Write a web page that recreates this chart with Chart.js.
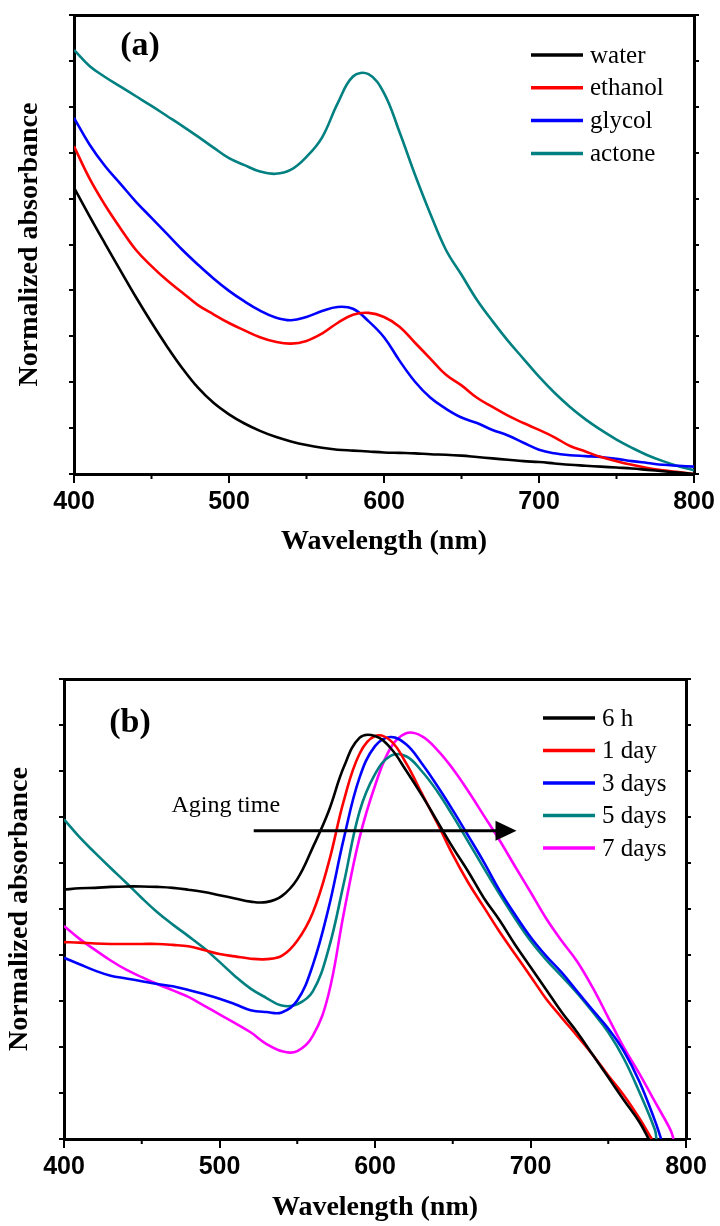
<!DOCTYPE html>
<html>
<head>
<meta charset="utf-8">
<script src="https://cdn.jsdelivr.net/npm/chart.js@4.4.0/dist/chart.umd.min.js"></script>
<style>
  html, body { margin: 0; padding: 0; background: #fff; width: 720px; height: 1226px; overflow: hidden; }
  canvas { position: absolute; left: 0; }
</style>
</head>
<body>
<canvas id="plot-a" width="720" height="600" style="top:0px"></canvas>
<canvas id="plot-b" width="720" height="626" style="top:600px"></canvas>
<script>
// (a) solvents, values read every 10 nm
const wavelengthA = [400, 410, 420, 430, 440, 450, 460, 470, 480, 490, 500, 510, 520, 530, 540, 550, 560, 570, 580, 590,
    600, 610, 620, 630, 640, 650, 660, 670, 680, 690, 700, 710, 720, 730, 740, 750, 760, 770, 780, 790, 800];
const water = [0.624, 0.562, 0.502, 0.443, 0.385, 0.330, 0.278, 0.230, 0.188, 0.155, 0.130, 0.110, 0.094, 0.081, 0.071, 0.063, 0.057, 0.053, 0.051, 0.049,
    0.047, 0.046, 0.045, 0.043, 0.042, 0.040, 0.037, 0.034, 0.031, 0.028, 0.026, 0.023, 0.020, 0.018, 0.016, 0.014, 0.012, 0.009, 0.006, 0.003, 0.000];
const ethanol = [0.714, 0.644, 0.586, 0.535, 0.488, 0.453, 0.422, 0.395, 0.368, 0.348, 0.329, 0.313, 0.298, 0.288, 0.284, 0.290, 0.306, 0.329, 0.347, 0.351,
    0.342, 0.321, 0.286, 0.251, 0.216, 0.193, 0.166, 0.146, 0.127, 0.111, 0.096, 0.080, 0.061, 0.049, 0.037, 0.028, 0.020, 0.013, 0.008, 0.004, 0.000];
const glycol = [0.776, 0.718, 0.671, 0.632, 0.593, 0.558, 0.523, 0.488, 0.456, 0.426, 0.399, 0.376, 0.356, 0.341, 0.335, 0.342, 0.355, 0.364, 0.360, 0.333,
    0.298, 0.247, 0.201, 0.166, 0.142, 0.123, 0.111, 0.096, 0.084, 0.068, 0.053, 0.045, 0.041, 0.039, 0.037, 0.033, 0.028, 0.024, 0.020, 0.018, 0.016];
const actone = [0.924, 0.889, 0.865, 0.844, 0.823, 0.802, 0.780, 0.758, 0.735, 0.711, 0.688, 0.673, 0.659, 0.654, 0.663, 0.691, 0.733, 0.807, 0.866, 0.871,
    0.830, 0.745, 0.652, 0.566, 0.488, 0.434, 0.379, 0.333, 0.290, 0.251, 0.212, 0.177, 0.146, 0.119, 0.096, 0.075, 0.057, 0.041, 0.028, 0.017, 0.008];
const labelsA = ['water', 'ethanol', 'glycol', 'actone'];
const colorsA = ['#000000', '#ff0000', '#0000ff', '#008080'];

// (b) aging time, null where the curve is already below the axis
const wavelengthB = [400, 410, 420, 430, 440, 450, 460, 470, 480, 490, 500, 510, 520, 530, 540, 550, 560, 570, 580, 590,
    600, 610, 620, 630, 640, 650, 660, 670, 680, 690, 700, 710, 720, 730, 740, 750, 760, 770, 780, 790];
const sixHour = [0.542, 0.545, 0.546, 0.548, 0.549, 0.549, 0.548, 0.546, 0.542, 0.537, 0.530, 0.523, 0.516, 0.515, 0.528, 0.565, 0.634, 0.711, 0.809, 0.872,
    0.876, 0.850, 0.801, 0.748, 0.691, 0.634, 0.581, 0.524, 0.476, 0.423, 0.374, 0.325, 0.276, 0.232, 0.183, 0.134, 0.085, 0.037, null, null];
const oneDay = [0.428, 0.427, 0.425, 0.424, 0.424, 0.424, 0.424, 0.422, 0.419, 0.411, 0.402, 0.397, 0.392, 0.391, 0.398, 0.431, 0.492, 0.598, 0.736, 0.837,
    0.876, 0.866, 0.817, 0.752, 0.687, 0.618, 0.557, 0.504, 0.451, 0.402, 0.354, 0.305, 0.264, 0.224, 0.183, 0.138, 0.095, 0.045, null, null];
const threeDays = [0.394, 0.380, 0.366, 0.355, 0.349, 0.343, 0.337, 0.332, 0.324, 0.315, 0.305, 0.293, 0.280, 0.276, 0.275, 0.301, 0.378, 0.500, 0.654, 0.785,
    0.854, 0.874, 0.858, 0.817, 0.768, 0.715, 0.659, 0.602, 0.541, 0.488, 0.439, 0.398, 0.362, 0.321, 0.280, 0.240, 0.191, 0.125, 0.040, null];
const fiveDays = [0.695, 0.656, 0.622, 0.589, 0.557, 0.524, 0.493, 0.466, 0.441, 0.415, 0.385, 0.354, 0.327, 0.307, 0.290, 0.293, 0.321, 0.411, 0.557, 0.711,
    0.793, 0.833, 0.832, 0.800, 0.756, 0.703, 0.646, 0.589, 0.533, 0.480, 0.431, 0.390, 0.354, 0.317, 0.276, 0.232, 0.175, 0.102, 0.020, null];
const sevenDays = [0.463, 0.435, 0.411, 0.388, 0.368, 0.352, 0.337, 0.323, 0.309, 0.290, 0.271, 0.252, 0.232, 0.207, 0.191, 0.191, 0.224, 0.313, 0.492, 0.654,
    0.768, 0.850, 0.882, 0.876, 0.846, 0.805, 0.756, 0.703, 0.650, 0.593, 0.537, 0.480, 0.431, 0.386, 0.329, 0.264, 0.199, 0.142, 0.081, 0.020];
// wavelength where each (b) curve meets the x axis
const crossB = [776, 778, 784, 781, 792];
const labelsB = ['6 h', '1 day', '3 days', '5 days', '7 days'];
const colorsB = ['#000000', '#ff0000', '#0000ff', '#008080', '#ff00ff'];

const xTicksMinor = [450, 550, 650, 750];

const serifBold = { family: '"Liberation Serif", "Times New Roman", serif', size: 28, weight: 'bold' };
const sansBold = { family: '"Liberation Sans", Arial, sans-serif', size: 25, weight: 'bold' };

// legend, panel letter, minor ticks and arrow
const figureDecor = {
    id: 'figureDecor',
    afterDraw(chart, args, opts) {
        const ctx = chart.ctx;
        const xs = chart.scales.x;
        const ys = chart.scales.y;
        const area = chart.chartArea;
        ctx.save();

        ctx.strokeStyle = '#000';
        ctx.lineWidth = 2;
        xTicksMinor.forEach(v => {
            const px = xs.getPixelForValue(v);
            ctx.beginPath();
            ctx.moveTo(px, area.bottom);
            ctx.lineTo(px, area.bottom + 5);
            ctx.stroke();
        });

        ctx.fillStyle = '#000';
        ctx.textAlign = 'center';
        ctx.textBaseline = 'middle';
        ctx.font = 'bold 34px "Liberation Serif", serif';
        ctx.fillText(opts.panel, opts.panelX, opts.panelY);

        ctx.textAlign = 'left';
        ctx.font = '25px "Liberation Serif", serif';
        chart.data.datasets.forEach((ds, i) => {
            const ly = opts.legendY + i * opts.legendStep;
            ctx.strokeStyle = ds.borderColor;
            ctx.lineWidth = 3.5;
            ctx.beginPath();
            ctx.moveTo(opts.legendX, ly);
            ctx.lineTo(opts.legendX + 52, ly);
            ctx.stroke();
            ctx.fillText(ds.label, opts.legendX + 59, ly + 1);
        });

        if (opts.arrow) {
            const a = opts.arrow;
            const x1 = xs.getPixelForValue(a.from);
            const x2 = xs.getPixelForValue(a.to);
            const yy = ys.getPixelForValue(a.level);
            ctx.strokeStyle = '#000';
            ctx.lineWidth = 3;
            ctx.beginPath();
            ctx.moveTo(x1, yy);
            ctx.lineTo(x2 - 18, yy);
            ctx.stroke();
            ctx.beginPath();
            ctx.moveTo(x2, yy);
            ctx.lineTo(x2 - 21, yy - 10);
            ctx.lineTo(x2 - 21, yy + 10);
            ctx.closePath();
            ctx.fill();
            ctx.textAlign = 'center';
            ctx.font = '24px "Liberation Serif", serif';
            ctx.fillText(a.text, xs.getPixelForValue(a.textAt), ys.getPixelForValue(a.textLevel));
        }
        ctx.restore();
    }
};

function makeScales(sz) {
    return {
        x: {
            type: 'linear', position: 'bottom', min: 400, max: 800,
            ticks: { stepSize: 100, color: '#000', font: sansBold, padding: 4, maxRotation: 0 },
            grid: { drawOnChartArea: false, color: '#000', lineWidth: 2, tickLength: 9 },
            border: { color: '#000', width: 3 },
            title: { display: true, text: 'Wavelength (nm)', color: '#000', font: serifBold, padding: { top: 0, bottom: sz.xTitlePad } },
            afterFit: s => { s.height = sz.bottom; }
        },
        x2: {
            type: 'linear', position: 'top', min: 400, max: 800,
            ticks: { display: false },
            grid: { display: false, drawTicks: false },
            border: { color: '#000', width: 3 },
            afterFit: s => { s.height = sz.top; }
        },
        y: {
            type: 'linear', position: 'left', min: 0, max: 1,
            ticks: { display: false, stepSize: 0.1 },
            grid: { drawOnChartArea: false, color: '#000', lineWidth: 2, tickLength: 5 },
            border: { color: '#000', width: 3 },
            title: { display: true, text: 'Normalized absorbance', color: '#000', font: serifBold, padding: { top: sz.yTitlePad, bottom: 0 } },
            afterFit: s => { s.width = sz.left; }
        },
        y2: {
            type: 'linear', position: 'right', min: 0, max: 1,
            ticks: { display: false, stepSize: 0.1 },
            grid: { drawOnChartArea: false, color: '#000', lineWidth: 2, tickLength: 5 },
            border: { color: '#000', width: 3 },
            afterFit: s => { s.width = sz.right; }
        }
    };
}

function lineSet(label, color, points) {
    return {
        label: label,
        data: points,
        borderColor: color,
        borderWidth: 2.6,
        pointRadius: 0,
        fill: false,
        tension: 0.4,
        xAxisID: 'x',
        yAxisID: 'y'
    };
}

function setPlotA() {
    const series = [water, ethanol, glycol, actone];
    const datasets = series.map((vals, i) =>
        lineSet(labelsA[i], colorsA[i], wavelengthA.map((w, j) => ({ x: w, y: vals[j] }))));

    new Chart(document.getElementById('plot-a').getContext('2d'), {
        type: 'line',
        data: { datasets: datasets },
        options: {
            responsive: false,
            animation: false,
            devicePixelRatio: 1,
            layout: { padding: 0, autoPadding: false },
            scales: makeScales({ left: 74, right: 26, top: 15, bottom: 126, xTitlePad: 41, yTitlePad: 13 }),
            plugins: {
                legend: { display: false },
                tooltip: { enabled: false },
                figureDecor: { panel: '(a)', panelX: 140, panelY: 46, legendX: 531, legendY: 55, legendStep: 32.8 }
            }
        },
        plugins: [figureDecor]
    });
}

function setPlotB() {
    const series = [sixHour, oneDay, threeDays, fiveDays, sevenDays];
    const datasets = series.map((vals, i) => {
        const pts = [];
        for (let j = 0; j < wavelengthB.length; j++) {
            if (vals[j] !== null) pts.push({ x: wavelengthB[j], y: vals[j] });
        }
        pts.push({ x: crossB[i], y: 0 });
        return lineSet(labelsB[i], colorsB[i], pts);
    });

    new Chart(document.getElementById('plot-b').getContext('2d'), {
        type: 'line',
        data: { datasets: datasets },
        options: {
            responsive: false,
            animation: false,
            devicePixelRatio: 1,
            layout: { padding: 0, autoPadding: false },
            scales: makeScales({ left: 64, right: 34, top: 79, bottom: 87, xTitlePad: 1, yTitlePad: 3 }),
            plugins: {
                legend: { display: false },
                tooltip: { enabled: false },
                figureDecor: {
                    panel: '(b)', panelX: 130, panelY: 123, legendX: 543, legendY: 118, legendStep: 32.5,
                    arrow: { from: 522, to: 691, level: 0.67, text: 'Aging time', textAt: 504, textLevel: 0.724 }
                }
            }
        },
        plugins: [figureDecor]
    });
}

setPlotA();
setPlotB();
</script>
</body>
</html>
